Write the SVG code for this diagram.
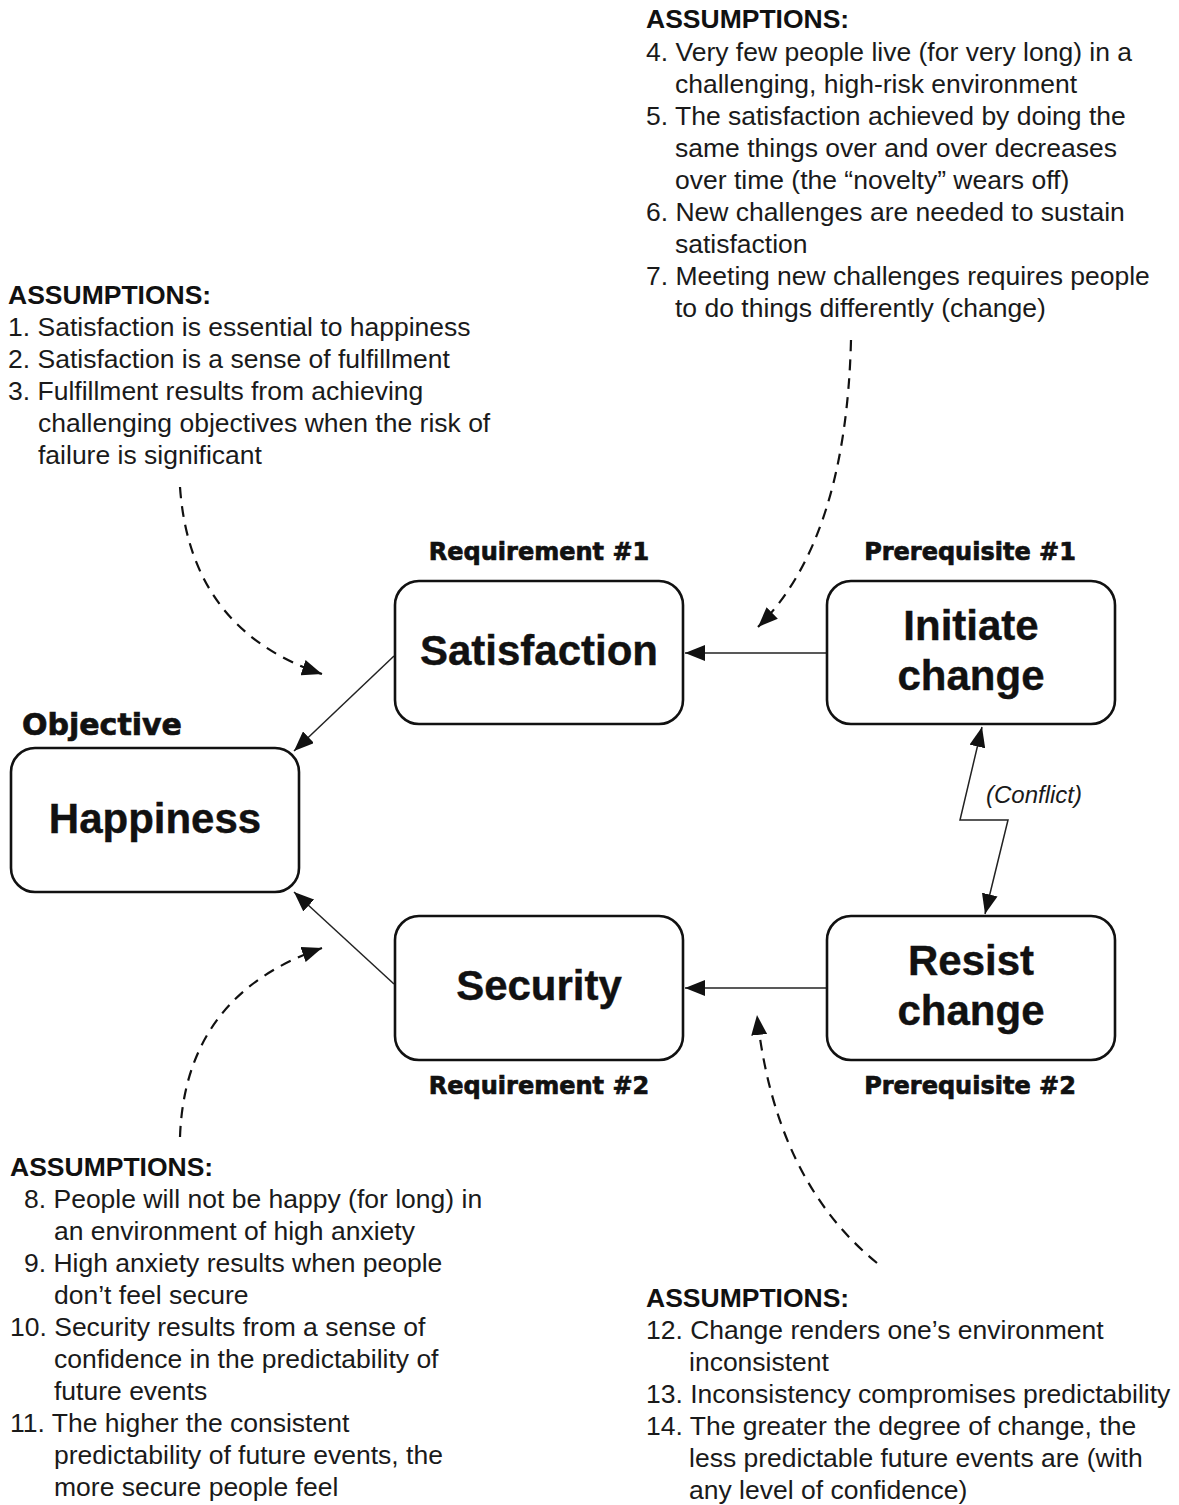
<svg xmlns="http://www.w3.org/2000/svg" width="1179" height="1505" viewBox="0 0 1179 1505">
  <style>
    .box { fill: #ffffff; stroke: #111111; stroke-width: 2.6; }
    .node { font-family: "Liberation Sans", Arial, sans-serif; font-weight: bold; font-size: 42px; fill: #111111; stroke: #111111; stroke-width: 0.4; text-anchor: middle; }
    .tag { font-family: "DejaVu Sans", Verdana, sans-serif; font-weight: bold; font-size: 24px; fill: #111111; stroke: #111111; stroke-width: 0.7; text-anchor: middle; }
    .body { font-family: "Liberation Sans", Arial, sans-serif; font-size: 26.5px; fill: #1a1a1a; }
    .head { font-family: "Liberation Sans", Arial, sans-serif; font-size: 26.5px; font-weight: bold; fill: #111111; }
    .link { fill: none; stroke: #222222; stroke-width: 1.5; }
    .dash { fill: none; stroke: #111111; stroke-width: 2.2; stroke-dasharray: 11 8; }
    .note { font-family: "Liberation Sans", Arial, sans-serif; font-style: italic; font-size: 24px; fill: #1a1a1a; }
  </style>
  <defs>
    <marker id="tip" viewBox="0 0 20 16" refX="20" refY="8" markerWidth="20" markerHeight="16" markerUnits="userSpaceOnUse" orient="auto-start-reverse">
      <path d="M0,0 L20,8 L0,16 Z" fill="#111111"/>
    </marker>
  </defs>
  <rect width="1179" height="1505" fill="#ffffff"/>

  <!-- Connectors -->
  <g id="connectors">
    <line class="link" x1="394" y1="656" x2="294" y2="751" marker-end="url(#tip)"/>
    <line class="link" x1="394" y1="984" x2="294" y2="892" marker-end="url(#tip)"/>
    <line class="link" x1="827" y1="653" x2="685" y2="653" marker-end="url(#tip)"/>
    <line class="link" x1="827" y1="988" x2="685" y2="988" marker-end="url(#tip)"/>
    <path class="link" d="M982,727 L960,820 L1008,820 L985,914" marker-start="url(#tip)" marker-end="url(#tip)"/>
    <text class="note" x="986" y="803">(Conflict)</text>
    <path class="dash" d="M851,340 Q846,540 758,627" marker-end="url(#tip)"/>
    <path class="dash" d="M180,487 Q190,630 322,674" marker-end="url(#tip)"/>
    <path class="dash" d="M180,1137 Q185,995 322,948" marker-end="url(#tip)"/>
    <path class="dash" d="M877,1263 Q775,1180 757,1015" marker-end="url(#tip)"/>
  </g>

  <!-- Objective -->
  <g id="happiness">
    <text class="tag" x="22" y="735" style="text-anchor:start;font-size:30px">Objective</text>
    <rect class="box" x="11" y="748" width="288" height="144" rx="24"/>
    <text class="node" x="155" y="833">Happiness</text>
  </g>

  <!-- Requirement #1 -->
  <g id="satisfaction">
    <text class="tag" x="539" y="560">Requirement #1</text>
    <rect class="box" x="395" y="581" width="288" height="143" rx="24"/>
    <text class="node" x="539" y="665">Satisfaction</text>
  </g>

  <!-- Prerequisite #1 -->
  <g id="initiate-change">
    <text class="tag" x="970" y="560">Prerequisite #1</text>
    <rect class="box" x="827" y="581" width="288" height="143" rx="24"/>
    <text class="node" x="971" y="640">Initiate</text>
    <text class="node" x="971" y="690">change</text>
  </g>

  <!-- Requirement #2 -->
  <g id="security">
    <rect class="box" x="395" y="916" width="288" height="144" rx="24"/>
    <text class="node" x="539" y="1000">Security</text>
    <text class="tag" x="539" y="1094">Requirement #2</text>
  </g>

  <!-- Prerequisite #2 -->
  <g id="resist-change">
    <rect class="box" x="827" y="916" width="288" height="144" rx="24"/>
    <text class="node" x="971" y="975">Resist</text>
    <text class="node" x="971" y="1025">change</text>
    <text class="tag" x="970" y="1094">Prerequisite #2</text>
  </g>

  <!-- Assumptions 1-3 -->
  <g id="assumptions-1-3">
    <text class="head" x="8" y="304">ASSUMPTIONS:</text>
    <text class="body" x="8" y="336">1. Satisfaction is essential to happiness</text>
    <text class="body" x="8" y="368">2. Satisfaction is a sense of fulfillment</text>
    <text class="body" x="8" y="400">3. Fulfillment results from achieving</text>
    <text class="body" x="38" y="432">challenging objectives when the risk of</text>
    <text class="body" x="38" y="464">failure is significant</text>
  </g>

  <!-- Assumptions 4-7 -->
  <g id="assumptions-4-7">
    <text class="head" x="646" y="28">ASSUMPTIONS:</text>
    <text class="body" x="646" y="61">4. Very few people live (for very long) in a</text>
    <text class="body" x="675" y="93">challenging, high-risk environment</text>
    <text class="body" x="646" y="125">5. The satisfaction achieved by doing the</text>
    <text class="body" x="675" y="157">same things over and over decreases</text>
    <text class="body" x="675" y="189">over time (the “novelty” wears off)</text>
    <text class="body" x="646" y="221">6. New challenges are needed to sustain</text>
    <text class="body" x="675" y="253">satisfaction</text>
    <text class="body" x="646" y="285">7. Meeting new challenges requires people</text>
    <text class="body" x="675" y="317">to do things differently (change)</text>
  </g>

  <!-- Assumptions 8-11 -->
  <g id="assumptions-8-11">
    <text class="head" x="10" y="1176">ASSUMPTIONS:</text>
    <text class="body" x="24" y="1208">8. People will not be happy (for long) in</text>
    <text class="body" x="54" y="1240">an environment of high anxiety</text>
    <text class="body" x="24" y="1272">9. High anxiety results when people</text>
    <text class="body" x="54" y="1304">don’t feel secure</text>
    <text class="body" x="10" y="1336">10. Security results from a sense of</text>
    <text class="body" x="54" y="1368">confidence in the predictability of</text>
    <text class="body" x="54" y="1400">future events</text>
    <text class="body" x="10" y="1432">11. The higher the consistent</text>
    <text class="body" x="54" y="1464">predictability of future events, the</text>
    <text class="body" x="54" y="1496">more secure people feel</text>
  </g>

  <!-- Assumptions 12-14 -->
  <g id="assumptions-12-14">
    <text class="head" x="646" y="1307">ASSUMPTIONS:</text>
    <text class="body" x="646" y="1339">12. Change renders one’s environment</text>
    <text class="body" x="689" y="1371">inconsistent</text>
    <text class="body" x="646" y="1403">13. Inconsistency compromises predictability</text>
    <text class="body" x="646" y="1435">14. The greater the degree of change, the</text>
    <text class="body" x="689" y="1467">less predictable future events are (with</text>
    <text class="body" x="689" y="1499">any level of confidence)</text>
  </g>
</svg>
